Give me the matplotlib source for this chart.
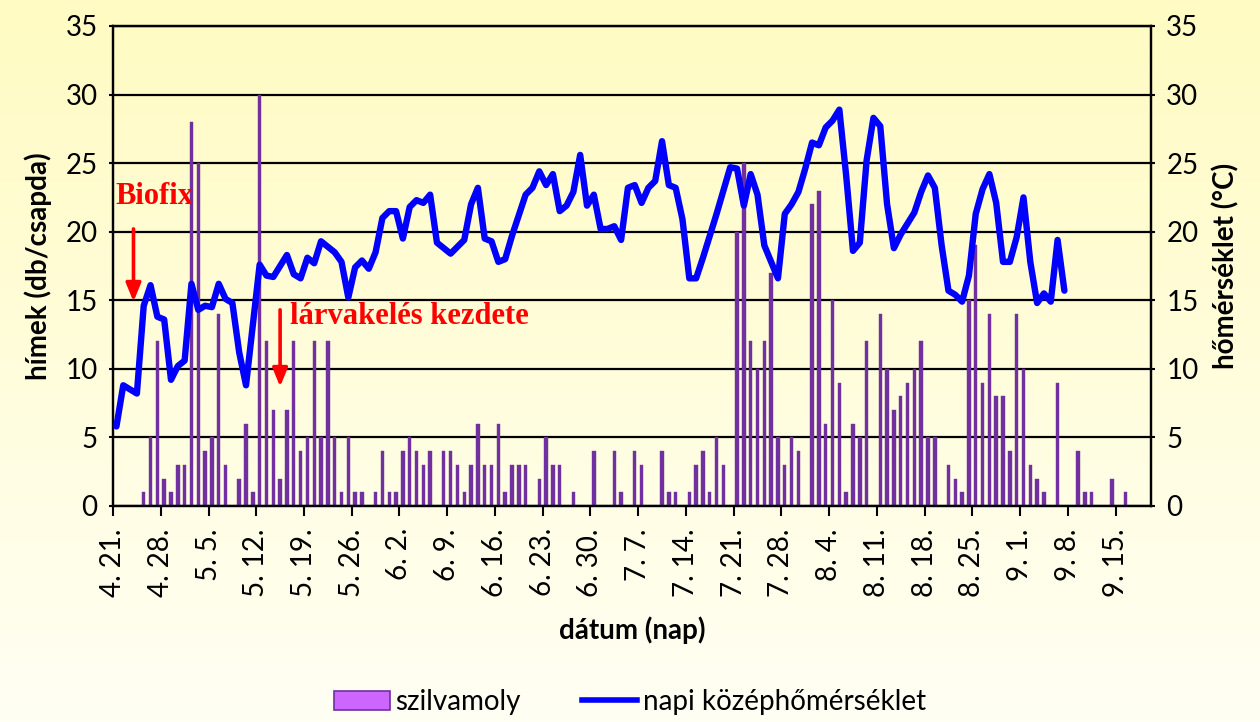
import numpy as np
import matplotlib
matplotlib.use('Agg')
import matplotlib.pyplot as plt
from matplotlib.patches import Patch
from matplotlib.lines import Line2D
from matplotlib.colors import LinearSegmentedColormap

plt.rcParams['font.family'] = ['Lato', 'DejaVu Sans']

# Days counted from 4. 21. (day 0)
TICK_LABELS = ["4. 21.", "4. 28.", "5. 5.", "5. 12.", "5. 19.", "5. 26.", "6. 2.",
               "6. 9.", "6. 16.", "6. 23.", "6. 30.", "7. 7.", "7. 14.", "7. 21.",
               "7. 28.", "8. 4.", "8. 11.", "8. 18.", "8. 25.", "9. 1.", "9. 8.",
               "9. 15."]
TICK_DAYS = [0, 7, 14, 21, 28, 35, 42, 49, 56, 63, 70, 77, 84, 91, 98, 105, 112,
             119, 126, 133, 140, 147]

# szilvamoly catches (males per trap), only days with catches
moth_day = [4, 5, 6, 7, 8, 9, 10, 11, 12, 13, 14, 15, 16, 18, 19, 20, 21, 22, 23, 24,
            25, 26, 27, 28, 29, 30, 31, 32, 33, 34, 35, 36, 38, 39, 40, 41, 42, 43, 44,
            45, 46, 48, 49, 50, 51, 52, 53, 54, 55, 56, 57, 58, 59, 60, 62, 63, 64, 65,
            67, 70, 73, 74, 76, 77, 80, 81, 82, 84, 85, 86, 87, 88, 89, 91, 92, 93, 94,
            95, 96, 97, 98, 99, 100, 102, 103, 104, 105, 106, 107, 108, 109, 110, 112,
            113, 114, 115, 116, 117, 118, 119, 120, 122, 123, 124, 125, 126, 127, 128,
            129, 130, 131, 132, 133, 134, 135, 136, 138, 141, 142, 143, 146, 148]
moth_count = [1, 5, 12, 2, 1, 3, 3, 28, 25, 4, 5, 14, 3, 2, 6, 1, 30, 12, 7, 2,
              7, 12, 4, 5, 12, 5, 12, 5, 1, 5, 1, 1, 1, 4, 1, 1, 4, 5, 4,
              3, 4, 4, 4, 3, 1, 3, 6, 3, 3, 6, 1, 3, 3, 3, 2, 5, 3, 3,
              1, 4, 4, 1, 4, 3, 4, 1, 1, 1, 3, 4, 1, 5, 3, 20, 25, 12, 10,
              12, 17, 5, 3, 5, 4, 22, 23, 6, 15, 9, 1, 6, 5, 12, 14,
              10, 7, 8, 9, 10, 12, 5, 5, 3, 2, 1, 15, 19, 9, 14,
              8, 8, 4, 14, 10, 3, 2, 1, 9, 4, 1, 1, 2, 1]

# napi középhőmérséklet (°C), daily from day 0
temp = [5.8, 8.8, 8.5, 8.2, 14.6, 16.1, 13.8, 13.6, 9.2, 10.2,
        10.6, 16.2, 14.3, 14.6, 14.5, 16.2, 15.1, 14.8, 11.2, 8.8,
        13.2, 17.6, 16.8, 16.7, 17.5, 18.3, 16.9, 16.6, 18.1, 17.7,
        19.3, 18.9, 18.5, 17.8, 15.2, 17.4, 17.9, 17.3, 18.5, 21.0,
        21.5, 21.5, 19.5, 21.8, 22.3, 22.1, 22.7, 19.2, 18.8, 18.4,
        18.9, 19.4, 22.0, 23.2, 19.5, 19.3, 17.8, 18.0, 19.7, 21.2,
        22.7, 23.2, 24.4, 23.4, 24.2, 21.5, 21.9, 22.9, 25.6, 21.9,
        22.7, 20.2, 20.2, 20.4, 19.4, 23.2, 23.4, 22.1, 23.2, 23.7,
        26.6, 23.4, 23.2, 20.9, 16.6, 16.6, 18.1, 19.7, 21.3, 23.0,
        24.7, 24.6, 21.9, 24.2, 22.7, 19.0, 17.8, 16.6, 21.3, 22.0,
        22.9, 24.6, 26.5, 26.3, 27.6, 28.1, 28.9, 24.1, 18.6, 19.2,
        25.2, 28.3, 27.7, 22.0, 18.8, 19.8, 20.6, 21.4, 22.9, 24.1,
        23.2, 19.0, 15.7, 15.4, 14.9, 16.8, 21.3, 23.1, 24.2, 22.1,
        17.8, 17.8, 19.6, 22.5, 17.8, 14.8, 15.5, 14.9, 19.4, 15.7]

BIOFIX_DAY = 3
LARVA_DAY = 24

fig = plt.figure(figsize=(12.6, 7.22), dpi=100)

# pale yellow gradient background
bg = fig.add_axes([0, 0, 1, 1], zorder=-10)
cmap = LinearSegmentedColormap.from_list('bg', ['#FFFBC2', '#FFFFF4'])
bg.imshow(np.linspace(0, 1, 256).reshape(-1, 1), aspect='auto', cmap=cmap,
          extent=[0, 1, 0, 1])
bg.axis('off')

ax = fig.add_axes([0.0897, 0.2992, 0.8238, 0.6648])
ax.set_facecolor('none')
ax.set_axisbelow(True)

days = np.arange(len(temp))
ax.bar(np.array(moth_day) + 0.5, moth_count, width=0.5, color='#7030A0',
       edgecolor='#7030A0', linewidth=0.3, zorder=2)

ax.set_xlim(0, 152.2)
ax.set_ylim(0, 35)
ax.set_yticks(range(0, 36, 5))
ax.grid(axis='y', color='black', linewidth=1.6)
ax.set_xticks(TICK_DAYS)
ax.set_xticklabels(TICK_LABELS, rotation=90, va='top', ha='center')
ax.tick_params(axis='x', length=7, width=1.5, labelsize=20, pad=9)
ax.tick_params(axis='y', length=3, width=1.5, labelsize=20, pad=8)
for s in ax.spines.values():
    s.set_linewidth(1.6)

ax.set_xlabel('dátum (nap)', fontsize=20, fontweight='bold', labelpad=14)
ax.set_ylabel('hímek (db/csapda)', fontsize=20, fontweight='bold', labelpad=10)

ax2 = ax.twinx()
ax2.plot(days + 0.5, temp, color='#0000FF', linewidth=4.6,
         solid_joinstyle='round', solid_capstyle='round', zorder=3)
ax2.set_ylim(0, 35)
ax2.set_yticks(range(0, 36, 5))
ax2.tick_params(axis='y', length=3, width=1.5, labelsize=20, pad=8)
ax2.set_ylabel('hőmérséklet (°C)', fontsize=20, fontweight='bold', labelpad=10)
for s in ax2.spines.values():
    s.set_linewidth(1.6)

# annotations
arrow = dict(arrowstyle='-|>,head_width=0.45,head_length=1.1', color='#FF0000',
             lw=2.6, shrinkA=0, shrinkB=0)
ax2.annotate('', xy=(BIOFIX_DAY, 14.9), xytext=(BIOFIX_DAY, 20.2),
             arrowprops=arrow, zorder=5)
ax2.text(0.3, 22.6, 'Biofix', color='#FF0000', fontsize=22, fontweight='bold',
         family=['Liberation Serif', 'DejaVu Serif'], ha='left', va='center', zorder=5)
ax2.annotate('', xy=(LARVA_DAY + 0.5, 8.7), xytext=(LARVA_DAY + 0.5, 14.3),
             arrowprops=arrow, zorder=5)
ax2.text(26.0, 13.8, 'lárvakelés kezdete', color='#FF0000', fontsize=22,
         fontweight='bold', family=['Liberation Serif', 'DejaVu Serif'],
         ha='left', va='center', zorder=5)

handles = [Patch(facecolor='#CC66FF', edgecolor='#7030A0', linewidth=1.2),
           Line2D([0], [0], color='#0000FF', linewidth=4)]
fig.legend(handles, ['szilvamoly', 'napi középhőmérséklet'], loc='lower center',
           bbox_to_anchor=(0.5, -0.025), ncol=2, frameon=False, fontsize=20,
           handlelength=2.0, handletextpad=0.2, columnspacing=2.2)

fig.savefig('out.png', dpi=100)
